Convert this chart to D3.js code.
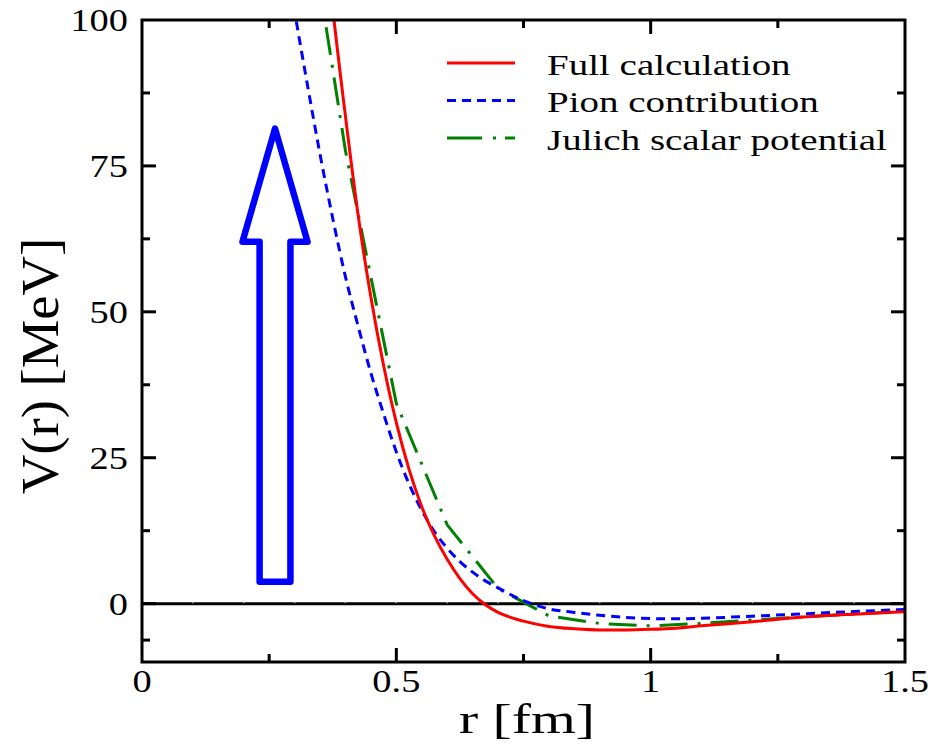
<!DOCTYPE html>
<html>
<head>
<meta charset="utf-8">
<script src="https://cdn.jsdelivr.net/npm/d3@7"></script>
<style>
  html, body { margin: 0; padding: 0; background: #fff; }
  svg { display: block; }
  text { font-family: "Liberation Serif", "Times New Roman", Times, serif; fill: #000; }
</style>
</head>
<body>
<svg id="chart" width="946" height="746"></svg>
<script>
// Radial potential V(r) in MeV
const fullR   = [0.35, 0.375, 0.40, 0.425, 0.45, 0.475, 0.50, 0.525, 0.55, 0.575, 0.60, 0.625, 0.65, 0.675, 0.70, 0.75, 0.80, 0.85, 0.90, 0.95, 1.00, 1.05, 1.10, 1.20, 1.30, 1.40, 1.50];
const fullV   = [124, 102, 83.5, 66.5, 52.5, 40.8, 31, 23, 16.6, 11.6, 7.6, 4.3, 1.7, -0.2, -1.5, -3.0, -3.9, -4.3, -4.5, -4.5, -4.4, -4.2, -3.8, -3.1, -2.3, -1.8, -1.4];

const pionR   = [0.275, 0.30, 0.325, 0.35, 0.375, 0.40, 0.425, 0.45, 0.475, 0.50, 0.525, 0.55, 0.575, 0.60, 0.625, 0.65, 0.675, 0.70, 0.75, 0.80, 0.85, 0.90, 0.95, 1.00, 1.05, 1.10, 1.20, 1.30, 1.40, 1.50];
const pionV   = [115, 101.5, 89, 77, 66, 56, 47.5, 39.5, 32.5, 26, 20.5, 16, 12.3, 9.5, 7.2, 5.4, 3.9, 2.7, 0.5, -0.9, -1.5, -2.0, -2.35, -2.55, -2.6, -2.5, -2.15, -1.75, -1.35, -1.0];

const julichR = [0.3, 0.4, 0.5, 0.6, 0.7, 0.8, 0.9, 1.0, 1.1, 1.2, 1.3, 1.4, 1.5];
const julichV = [133.3, 77.6, 34.3, 13.5, 2.6, -2.1, -3.4, -3.8, -3.4, -2.8, -2.3, -1.75, -1.3];

const seriesNames = ["Full calculation", "Pion contribution", "Julich scalar potential"];

const xTicks = [0, 0.5, 1, 1.5];
const xTickLabels = ["0", "0.5", "1", "1.5"];
const xMinorTicks = [0.25, 0.75, 1.25];
const yTicks = [0, 25, 50, 75, 100];
const yMinorTicks = [-6.25, 12.5, 37.5, 62.5, 87.5];
const zeroLineTicks = d3.range(1, 15).map(i => i / 10);

// Block arrow annotation in data units: centre r, tip V, head-base V, tail V
const arrowCenterR = 0.2615;
const arrowTipV = 81.4, arrowHeadV = 62.0, arrowTailV = 3.75;
const arrowHeadHalfR = 0.064, arrowShaftHalfR = 0.0303;

const svg = d3.select("#chart");
const margin = { left: 142, right: 41, top: 20, bottom: 84 };
const W = 946, H = 746;
const x = d3.scaleLinear().domain([0, 1.5]).range([margin.left, W - margin.right]);
const y = d3.scaleLinear().domain([-10, 100]).range([H - margin.bottom, margin.top]);

const x0 = x.range()[0], x1 = x.range()[1], y0 = y.range()[0], y1 = y.range()[1];

svg.append("defs").append("clipPath").attr("id", "plotclip")
  .append("rect").attr("x", x0).attr("y", y1).attr("width", x1 - x0).attr("height", y0 - y1);

// Zero reference line with faint 0.1 marks
svg.append("line").attr("x1", x0).attr("x2", x1).attr("y1", y(0)).attr("y2", y(0))
  .attr("stroke", "#000").attr("stroke-width", 3);
svg.append("g").selectAll("line").data(zeroLineTicks).join("line")
  .attr("x1", d => x(d)).attr("x2", d => x(d))
  .attr("y1", y(0) - 1.5).attr("y2", y(0) - 0.5)
  .attr("stroke", "#ccc").attr("stroke-width", 1.5);

// Curves
const plot = svg.append("g").attr("clip-path", "url(#plotclip)");
const smooth = d3.line().x(d => x(d[0])).y(d => y(d[1])).curve(d3.curveMonotoneX);
const straight = d3.line().x(d => x(d[0])).y(d => y(d[1]));

plot.append("path").datum(d3.zip(julichR, julichV)).attr("d", straight)
  .attr("fill", "none").attr("stroke", "#008000").attr("stroke-width", 3)
  .attr("stroke-dasharray", "28,10,3,10");
plot.append("path").datum(d3.zip(pionR, pionV)).attr("d", smooth)
  .attr("fill", "none").attr("stroke", "#0000ff").attr("stroke-width", 3)
  .attr("stroke-dasharray", "9,6");
plot.append("path").datum(d3.zip(fullR, fullV)).attr("d", smooth)
  .attr("fill", "none").attr("stroke", "#ff0000").attr("stroke-width", 3);

// Arrow
const arrowPts = [
  [x(arrowCenterR), y(arrowTipV)],
  [x(arrowCenterR + arrowHeadHalfR), y(arrowHeadV)],
  [x(arrowCenterR + arrowShaftHalfR), y(arrowHeadV)],
  [x(arrowCenterR + arrowShaftHalfR), y(arrowTailV)],
  [x(arrowCenterR - arrowShaftHalfR), y(arrowTailV)],
  [x(arrowCenterR - arrowShaftHalfR), y(arrowHeadV)],
  [x(arrowCenterR - arrowHeadHalfR), y(arrowHeadV)]
];
svg.append("path").attr("d", d3.line()(arrowPts) + "Z")
  .attr("fill", "none").attr("stroke", "#0000ff").attr("stroke-width", 6.5)
  .attr("stroke-linejoin", "round");

// Frame
svg.append("rect").attr("x", x0).attr("y", y1).attr("width", x1 - x0).attr("height", y0 - y1)
  .attr("fill", "none").attr("stroke", "#000").attr("stroke-width", 3);

// Ticks on all four sides, pointing inwards
const majorLen = 14, minorLen = 8;
const tk = svg.append("g").attr("stroke", "#000").attr("stroke-width", 3);
function xTickMarks(vals, len) {
  vals.forEach(v => {
    tk.append("line").attr("x1", x(v)).attr("x2", x(v)).attr("y1", y0).attr("y2", y0 - len);
    tk.append("line").attr("x1", x(v)).attr("x2", x(v)).attr("y1", y1).attr("y2", y1 + len);
  });
}
function yTickMarks(vals, len) {
  vals.forEach(v => {
    tk.append("line").attr("y1", y(v)).attr("y2", y(v)).attr("x1", x0).attr("x2", x0 + len);
    tk.append("line").attr("y1", y(v)).attr("y2", y(v)).attr("x1", x1).attr("x2", x1 - len);
  });
}
xTickMarks(xTicks.slice(1, -1), majorLen);
xTickMarks(xMinorTicks, minorLen);
yTickMarks(yTicks.slice(0, -1), majorLen);
yTickMarks(yMinorTicks, minorLen);

// Tick labels (wide serif)
const sx = 1.24;
function wideText(g, str, px, py, size, anchor, scaleX) {
  return g.append("text")
    .attr("transform", `translate(${px},${py}) scale(${scaleX},1)`)
    .attr("text-anchor", anchor).attr("font-size", size).text(str);
}
const labels = svg.append("g");
xTicks.forEach((v, i) => wideText(labels, xTickLabels[i], x(v), 692, 31, "middle", sx));
yTicks.forEach(v => wideText(labels, String(v), x0 - 14, y(v) + 11, 31, "end", sx));

// Axis titles
wideText(labels, "r [fm]", 527, 733, 43, "middle", 1.34);
labels.append("text")
  .attr("transform", `translate(58,366) rotate(-90) scale(1.3,1.25)`)
  .attr("text-anchor", "middle").attr("font-size", 42).text("V(r) [MeV]");

// Legend
const legendRows = [
  { name: seriesNames[0], color: "#ff0000", dash: null },
  { name: seriesNames[1], color: "#0000ff", dash: "9,6" },
  { name: seriesNames[2], color: "#008000", dash: "35,11,3,9" }
];
const lg = svg.append("g");
legendRows.forEach((d, i) => {
  const ly = 63 + i * 37.5;
  lg.append("line").attr("x1", 447).attr("x2", 515).attr("y1", ly).attr("y2", ly)
    .attr("stroke", d.color).attr("stroke-width", 3)
    .attr("stroke-dasharray", d.dash);
  wideText(lg, d.name, 547, ly + 11.5, 30, "start", 1.3);
});
</script>
</body>
</html>
